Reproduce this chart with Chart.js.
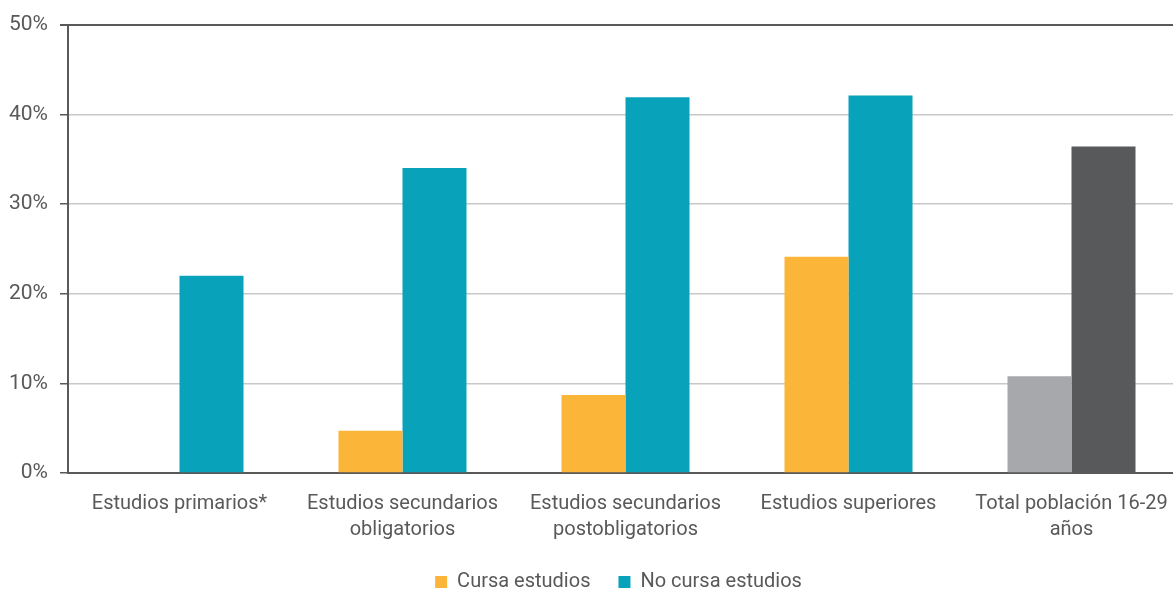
<!DOCTYPE html>
<html>
<head>
<meta charset="utf-8">
<script src="https://cdn.jsdelivr.net/npm/chart.js@4"></script>
<style>
  html, body { margin: 0; padding: 0; background: #fff; overflow: hidden; }
  #wrap { width: 1183px; height: 600px; }
</style>
</head>
<body>
<div id="wrap"><canvas id="grafico"></canvas></div>
<script>
const categorias = [
  'Estudios primarios*',
  ['Estudios secundarios', 'obligatorios'],
  ['Estudios secundarios', 'postobligatorios'],
  'Estudios superiores',
  ['Total población 16-29', 'años']
]
const cursaEstudios = [null, 4.7, 8.7, 24.1, 10.8]
const noCursaEstudios = [22.0, 34.0, 41.9, 42.1, 36.4]
const ticksY = [0, 10, 20, 30, 40, 50]

const gris = '#595959'
const ctx = document.getElementById('grafico').getContext('2d')

// la leyenda del original está centrada en un gráfico algo más ancho
const moverLeyenda = {
  id: 'moverLeyenda',
  afterLayout: (chart) => {
    const lg = chart.legend
    lg.left += 27
    lg.right += 27
    lg.top += 2
    lg.bottom += 2
  }
}

new Chart(ctx, {
  type: 'bar',
  data: {
    labels: categorias,
    datasets: [{
      label: 'Cursa estudios',
      data: cursaEstudios,
      backgroundColor: ['#FBB63A', '#FBB63A', '#FBB63A', '#FBB63A', '#A7A8AB'],
      categoryPercentage: 0.574,
      barPercentage: 1
    }, {
      label: 'No cursa estudios',
      data: noCursaEstudios,
      backgroundColor: ['#09A2BB', '#09A2BB', '#09A2BB', '#09A2BB', '#58595B'],
      categoryPercentage: 0.574,
      barPercentage: 1
    }]
  },
  options: {
    responsive: true,
    maintainAspectRatio: false,
    animation: false,
    layout: { padding: { top: 13, right: 0, left: 0, bottom: 0 } },
    scales: {
      x: {
        afterFit: (s) => { s.height = 69 },
        grid: { display: false },
        border: { color: gris, width: 2 },
        ticks: {
          color: gris,
          font: { family: 'Roboto', size: 20, lineHeight: 1.3 },
          padding: 10,
          maxRotation: 0,
          autoSkip: false
        }
      },
      y: {
        min: 0,
        max: 50,
        afterFit: (s) => { s.width = 68 },
        afterBuildTicks: (s) => { s.ticks = ticksY.map(v => ({ value: v })) },
        border: { color: gris, width: 2 },
        grid: {
          color: (c) => c.tick && c.tick.value === 50 ? gris : '#C8C8C8',
          lineWidth: (c) => c.tick && c.tick.value === 50 ? 2 : 1.5,
          tickColor: gris,
          tickLength: 8
        },
        ticks: {
          color: gris,
          font: { family: 'Roboto', size: 21 },
          padding: 12,
          callback: (v) => v + '%'
        }
      }
    },
    plugins: {
      tooltip: { enabled: false },
      legend: {
        position: 'bottom',
        labels: {
          color: gris,
          font: { family: 'Roboto', size: 20 },
          boxWidth: 12,
          boxHeight: 12,
          padding: 28
        }
      }
    }
  },
  plugins: [moverLeyenda]
})
</script>
</body>
</html>
